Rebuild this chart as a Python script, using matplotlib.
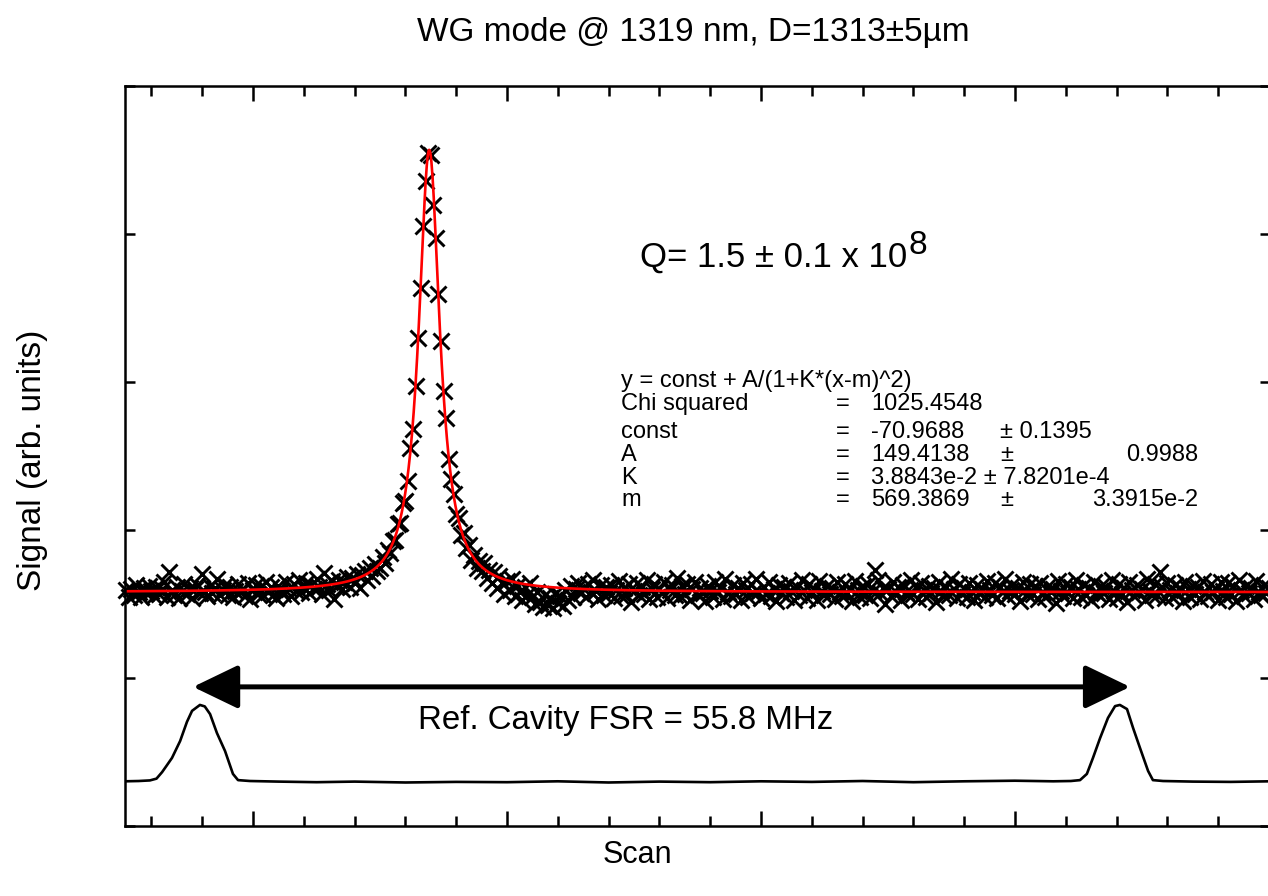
import numpy as np
import matplotlib
matplotlib.use("Agg")
import matplotlib.pyplot as plt
from matplotlib.patches import FancyArrowPatch
from matplotlib.ticker import MultipleLocator

plt.rcParams['font.family'] = ['Liberation Sans', 'DejaVu Sans']

W, H = 1268, 896

# measured WG mode signal, one point per scan step starting at 450
scan_start = 450
signal = [
    -70.2, -72.5, -69.8, -71.9, -68.6, -70.9, -72.8, -69.5, -71.3, -68.9,
    -70.6, -72.2, -69.1, -71.7, -70.0, -67.5, -72.6, -64.3, -70.4, -71.8,
    -69.3, -72.9, -70.7, -68.2, -71.5, -69.7, -73.0, -70.1, -68.7, -71.4,
    -65.0, -70.8, -72.4, -68.9, -71.2, -69.6, -66.4, -72.1, -70.3, -68.5,
    -71.9, -69.2, -72.7, -70.5, -68.1, -71.0, -69.9, -72.3, -67.9, -73.2,
    -70.4, -68.6, -71.6, -69.0, -72.0, -67.7, -70.9, -69.4, -71.8, -73.1,
    -68.8, -70.2, -71.5, -67.4, -69.8, -72.2, -68.3, -70.6, -66.9, -71.1,
    -69.5, -67.8, -71.3, -68.7, -70.0, -66.5, -69.2, -71.7, -64.4, -68.1,
    -70.3, -67.2, -73.3, -68.9, -66.8, -70.1, -67.5, -65.9, -69.4, -66.3,
    -67.8, -64.9, -69.6, -65.2, -63.8, -66.9, -62.7, -65.6, -61.4, -63.9,
    -62.8, -59.1, -61.2, -56.7, -57.9, -53.6, -53.5, -48.1, -47.8, -41.0,
    -40.2, -33.4, -22.3, -15.9, -1.4, 14.9, 31.8, 52.7, 67.9, 77.3,
    76.6, 59.8, 48.6, 29.7, 13.9, -3.0, -12.2, -26.0, -32.8, -37.8,
    -44.6, -45.9, -51.8, -51.0, -56.2, -55.1, -60.0, -58.3, -62.7, -60.4,
    -63.9, -61.0, -66.2, -63.5, -67.8, -64.1, -69.5, -65.7, -68.0, -71.6,
    -67.2, -70.4, -66.5, -72.3, -68.8, -70.9, -73.5, -69.1, -71.8, -67.9,
    -72.6, -75.1, -70.8, -74.4, -76.0, -72.1, -75.3, -73.0, -76.4, -71.7,
    -74.6, -72.2, -75.6, -70.4, -73.8, -68.9, -72.5, -70.1, -67.8, -71.3,
    -69.6, -72.8, -68.3, -71.0, -66.9, -70.5, -73.2, -68.7, -71.9, -69.2,
    -71.4, -68.6, -73.0, -70.2, -67.3, -72.4, -69.5, -71.8, -68.1, -74.2,
    -70.7, -67.9, -72.1, -69.3, -71.6, -66.8, -73.4, -70.0, -68.4, -72.7,
    -69.8, -71.2, -67.6, -73.1, -70.4, -68.7, -71.9, -66.2, -72.4, -69.0,
    -71.5, -68.2, -73.6, -70.1, -67.4, -72.0, -69.6, -71.3, -74.0, -68.8,
    -70.6, -72.5, -67.7, -71.1, -69.2, -73.3, -66.6, -70.9, -72.2, -68.5,
    -71.7, -69.7, -73.8, -67.9, -70.3, -72.8, -68.3, -71.4, -66.4, -70.8,
    -73.0, -69.1, -71.6, -67.5, -72.3, -70.0, -74.1, -68.6, -71.2, -69.4,
    -72.6, -67.8, -70.7, -73.5, -69.3, -71.9, -66.9, -70.4, -72.9, -68.2,
    -71.0, -69.8, -73.7, -67.2, -70.6, -72.1, -68.9, -71.5, -69.5, -73.2,
    -67.7, -70.9, -72.4, -68.4, -71.3, -69.9, -74.0, -67.3, -70.2, -72.7,
    -69.0, -71.8, -68.1, -72.9, -70.5, -63.4, -67.0, -71.4, -69.6, -75.1,
    -70.0, -72.3, -67.6, -71.1, -69.4, -73.5, -68.5, -70.8, -72.0, -66.8,
    -71.7, -69.2, -73.3, -67.9, -70.3, -72.6, -68.8, -71.2, -69.7, -74.3,
    -67.4, -70.7, -72.2, -69.1, -71.9, -66.5, -70.1, -73.0, -68.3, -71.6,
    -69.5, -72.8, -67.8, -70.9, -73.6, -68.7, -71.3, -69.9, -72.5, -67.1,
    -70.4, -71.8, -68.0, -73.1, -69.3, -71.0, -66.7, -72.4, -70.6, -68.6,
    -71.5, -69.6, -73.9, -67.5, -70.2, -72.0, -68.4, -71.7, -69.0, -73.4,
    -67.9, -70.8, -72.7, -68.9, -71.1, -69.8, -74.5, -67.2, -70.5, -72.3,
    -68.1, -71.4, -69.4, -73.0, -66.9, -70.0, -72.6, -68.5, -71.9, -69.7,
    -73.7, -67.6, -70.9, -72.1, -68.8, -71.2, -69.1, -73.3, -67.0, -70.6,
    -72.9, -68.3, -71.6, -69.5, -74.2, -67.7, -70.3, -72.4, -68.7, -71.0,
    -69.9, -73.5, -66.6, -70.7, -72.0, -68.2, -71.8, -64.1, -69.2, -73.1,
    -67.8, -70.4, -72.5, -68.6, -71.3, -69.6, -74.0, -67.4, -70.1, -72.8,
    -68.9, -71.5, -69.3, -73.2, -67.1, -70.8, -72.2, -68.4, -71.1, -69.8,
    -73.6, -67.5, -70.5, -72.7, -68.0, -71.7, -69.0, -74.1, -66.8, -70.2,
    -72.3, -68.8, -71.4, -69.7, -73.4, -67.3, -70.9, -72.1, -68.5, -71.2,
    -69.5,
]
scan = np.arange(scan_start, scan_start + len(signal))

# fit parameters (from the fit box)
fit_const = -70.9688
fit_A = 149.4138
fit_K = 3.8843e-2
fit_m = 569.3869

# reference cavity transmission trace
ref_x = [449.6, 455, 459.4, 462, 464.2, 466, 468.1, 471.3, 474, 476.0,
         479.1, 481, 483.1, 485.8, 489.0, 492.1, 494.1, 498.8, 510, 525,
         540, 560, 580, 600, 620, 640, 660, 680, 700, 720,
         740, 760, 780, 800, 815, 822, 825.6, 828.3, 830.7, 833.5,
         836.6, 839.4, 841.3, 844.1, 846.5, 849.2, 852.4, 854.3, 858.3, 870,
         885, 900.4]
ref_y = [-134.9, -134.8, -134.6, -134.0, -131.8, -129.6, -127.0, -121.3, -114.8, -111.1,
         -109.1, -109.6, -112.2, -118.6, -124.7, -132.4, -134.5, -134.8, -135.0, -135.2,
         -135.0, -135.3, -135.1, -135.2, -134.9, -135.3, -135.0, -135.2, -134.9, -135.1,
         -134.8, -135.2, -134.9, -134.7, -134.9, -134.8, -134.5, -132.4, -127.0, -120.3,
         -113.5, -109.5, -109.1, -110.5, -116.9, -123.6, -131.4, -134.5, -134.8, -135.0,
         -135.1, -134.9]

# FSR arrow between the two reference peaks
fsr_left, fsr_right, fsr_y = 476.4, 845.3, -103.0

fig = plt.figure(figsize=(W / 100, H / 100), dpi=100)
ax = fig.add_axes([125 / W, 1 - 826 / H, 1145 / W, 740 / H])

def fx(px):
    return px / W

def fy(py):
    return 1 - py / H

ax.plot(scan, signal, 'x', color='black', ms=11, mew=2.1, clip_on=False)
xf = np.linspace(449.6, 900.4, 2000)
ax.plot(xf, fit_const + fit_A / (1 + fit_K * (xf - fit_m) ** 2), color='red', lw=1.9)
ax.plot(ref_x, ref_y, color='black', lw=1.9)

arr = FancyArrowPatch((fsr_left, fsr_y), (fsr_right, fsr_y),
                      arrowstyle='<|-|>,head_length=28,head_width=13.5',
                      mutation_scale=1, lw=3.6, color='black',
                      shrinkA=0, shrinkB=0)
ax.add_patch(arr)

ax.set_xlim(449.6, 900.4)
ax.set_ylim(-150, 100)
ax.xaxis.set_major_locator(MultipleLocator(100))
ax.xaxis.set_minor_locator(MultipleLocator(20))
ax.yaxis.set_major_locator(MultipleLocator(50))
ax.tick_params(which='both', direction='in', top=True, right=True,
               labelbottom=False, labelleft=False, width=1.8)
ax.tick_params(which='major', axis='x', length=11)
ax.tick_params(which='minor', axis='x', length=7.5)
ax.tick_params(which='major', axis='y', length=7.5)
for s in ax.spines.values():
    s.set_linewidth(1.8)

fig.text(fx(693), fy(33), 'WG mode @ 1319 nm, D=1313\u00b15\u00b5m',
         ha='center', va='center', fontsize=24)
fig.text(fx(33), fy(460), 'Signal (arb. units)', rotation=90,
         ha='center', va='center', fontsize=24)
fig.text(fx(637), fy(855), 'Scan', ha='center', va='center', fontsize=22)

fig.text(fx(640), fy(257), 'Q= 1.5 \u00b1 0.1 x 10', ha='left', va='center',
         fontsize=25)
fig.text(fx(909), fy(245), '8', ha='left', va='center', fontsize=24)

fig.text(fx(418), fy(720), 'Ref. Cavity FSR = 55.8 MHz', ha='left', va='center',
         fontsize=23.8)

fs = 17
rows = [
    (381, 'y = const + A/(1+K*(x-m)^2)', '', ''),
    (404, 'Chi squared', '=', '1025.4548'),
    (432, 'const', '=', '-70.9688'),
    (455, 'A', '=', '149.4138'),
    (478, 'K', '=', '3.8843e-2 \u00b1 7.8201e-4'),
    (500, 'm', '=', '569.3869'),
]
for py, name, eq, val in rows:
    fig.text(fx(621), fy(py), name, ha='left', va='center', fontsize=fs)
    if eq:
        fig.text(fx(836), fy(py), eq, ha='left', va='center', fontsize=fs)
        fig.text(fx(871), fy(py), val, ha='left', va='center', fontsize=fs)
# uncertainty columns
fig.text(fx(1000), fy(432), '\u00b1 0.1395', ha='left', va='center', fontsize=fs)
fig.text(fx(1000), fy(455), '\u00b1', ha='left', va='center', fontsize=fs)
fig.text(fx(1000), fy(500), '\u00b1', ha='left', va='center', fontsize=fs)
fig.text(fx(1198), fy(455), '0.9988', ha='right', va='center', fontsize=fs)
fig.text(fx(1198), fy(500), '3.3915e-2', ha='right', va='center', fontsize=fs)

fig.savefig('out.png', dpi=100)
